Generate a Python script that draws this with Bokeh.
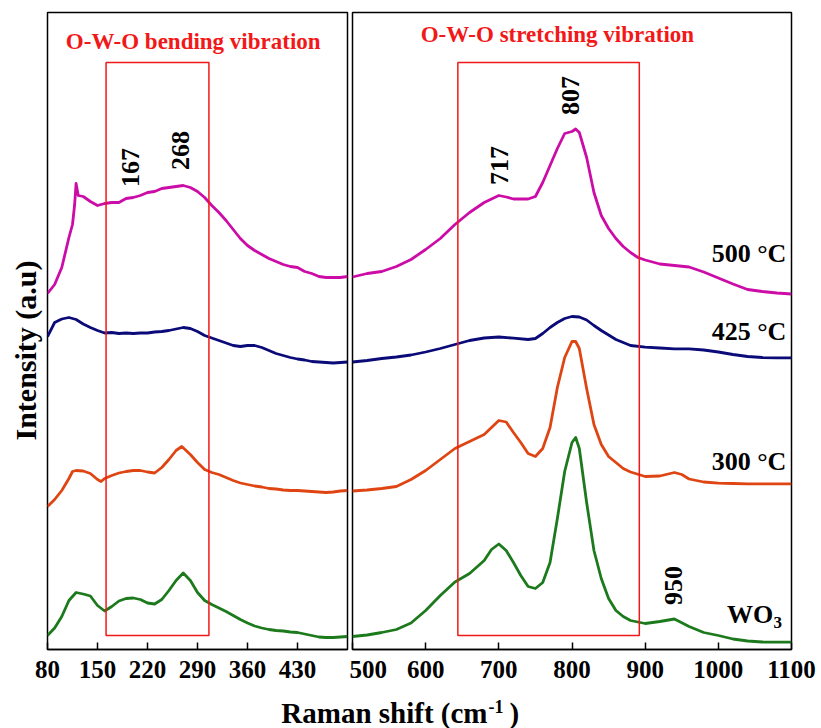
import math
from bokeh.plotting import figure
from bokeh.models import Range1d, FixedTicker, Label, Title
from bokeh.layouts import row, column
from bokeh.embed import file_html
from bokeh.resources import INLINE

# ---------------- data ----------------
left_ticks = [80, 150, 220, 290, 360, 430]
right_ticks = [500, 600, 700, 800, 900, 1000, 1100]

# 500 °C (magenta)
mag_l_x = [80, 90, 100, 110, 115, 118, 120, 123, 130, 140, 150, 160, 170, 180, 190, 200, 210, 220, 230, 240,
           250, 260, 270, 280, 290, 300, 310, 320, 330, 340, 350, 360, 370, 380, 390, 400, 410, 420, 430, 440,
           450, 460, 470, 480, 490, 500]
mag_l_y = [356, 365, 382, 412, 425, 445, 466, 454, 453, 448, 444, 446, 447, 447, 451, 452, 454, 457, 458, 461,
           462, 463, 464, 462, 458, 452, 444, 437, 429, 420, 411, 404, 399, 395, 391, 388, 385, 383, 382, 378,
           376, 373, 372, 372, 372, 373]
mag_r_x = [500, 520, 540, 560, 580, 600, 620, 640, 660, 680, 700, 710, 720, 740, 750, 760, 770, 780, 790, 800,
           805, 810, 820, 830, 840, 850, 860, 870, 880, 890, 900, 920, 940, 960, 980, 1000, 1020, 1040, 1060, 1080, 1100]
mag_r_y = [372.5, 376, 378, 383, 390, 400, 411, 425, 437, 447, 454, 452.5, 450.5, 450.5, 453, 467, 484, 501, 516, 518,
           520.5, 517, 492, 457, 434, 421, 411, 403, 397, 392, 389.5, 385.5, 384, 382.5, 377.5, 371.5, 365.5, 360, 358, 356.5, 355.5]

# 425 °C (navy)
nav_l_x = list(range(80, 501, 10))
nav_l_y = [313, 327, 330.5, 332, 330, 325.5, 322, 319, 316.5, 317, 316, 316.5, 316, 316.5, 316.5, 317.5, 318, 319,
           320.5, 322, 321, 318, 314, 311.5, 309, 306.5, 304, 303, 304, 304, 302, 299, 296, 294, 292, 290.5, 289.5,
           288, 287.5, 287, 286.5, 287, 287.5]
nav_r_x = [500, 520, 540, 560, 580, 600, 620, 640, 660, 680, 700, 720, 740, 750, 760, 770, 780, 790, 800, 810,
           820, 830, 840, 850, 860, 870, 880, 900, 920, 940, 960, 980, 1000, 1020, 1040, 1060, 1080, 1100]
nav_r_y = [287.5, 289, 291, 292.5, 294.5, 297.5, 301, 305, 309, 311.5, 312.5, 311.3, 310, 311, 316, 322, 327, 331, 333, 332.5,
           329.5, 324, 319, 314.5, 310, 307, 304, 302.3, 301.5, 300.7, 300.7, 299.5, 297.5, 295, 293, 292, 291.7, 291.7]

# 300 °C (orange)
org_l_x = [80, 90, 100, 110, 115, 120, 130, 140, 150, 155, 160, 170, 180, 190, 200, 210, 220, 230, 240, 250,
           260, 268, 280, 290, 300, 310, 320, 330, 340, 350, 360, 370, 380, 390, 400, 410, 420, 430, 440, 450,
           460, 470, 480, 490, 500]
org_l_y = [143, 150, 159, 171, 178, 179, 178.5, 176, 170, 168, 171, 174, 176.5, 178, 179, 179, 177.5, 176.5, 182, 190,
           199, 203, 195, 187, 180, 177, 175, 172, 169, 166.5, 165, 163.5, 162.5, 161, 160.5, 159.5, 159, 159, 158.5, 158,
           157.5, 157, 157.5, 158.5, 159]
org_r_x = [500, 520, 540, 560, 580, 600, 620, 640, 660, 680, 690, 700, 710, 720, 730, 740, 750, 760, 770, 780,
           790, 800, 805, 810, 820, 830, 840, 850, 860, 870, 880, 900, 920, 940, 950, 960, 980, 1000, 1020, 1040,
           1060, 1080, 1100]
org_r_y = [158.5, 159.5, 161, 163, 170, 179, 190, 201, 208, 215, 222, 229, 227.5, 217, 207, 196, 193, 201, 222, 262,
           292, 308, 308, 301, 261, 225, 205, 193, 187, 181, 177.5, 173, 173.5, 177, 175, 170.5, 167.5, 166.3, 166, 165.7,
           165.7, 165.7, 165.7]

# WO3 (green)
grn_l_x = list(range(80, 501, 10))
grn_l_y = [14, 21.5, 33, 49, 57, 55.5, 53.5, 44, 38.5, 43, 48.5, 51, 51.5, 50, 46.5, 45.5, 50, 59, 69, 76.5,
           69, 57, 49, 45, 41.5, 38, 34, 30, 26.5, 23.5, 21.5, 20, 19, 18.5, 17.5, 17, 15.5, 14, 12.5, 12,
           12, 12.5, 13]
grn_r_x = [500, 520, 540, 560, 580, 600, 620, 640, 660, 680, 690, 700, 710, 720, 730, 740, 750, 760, 770, 780,
           790, 800, 805, 810, 820, 830, 840, 850, 860, 870, 880, 900, 920, 940, 960, 980, 1000, 1020, 1040, 1060,
           1080, 1100]
grn_r_y = [13, 14.5, 17, 20, 26.5, 39, 54, 67.5, 76, 89, 100, 105.5, 99, 87, 74, 63, 61, 67, 87, 131,
           178, 207, 212, 201, 147, 99, 71, 51, 39, 33, 29, 26, 28, 30.5, 23, 17, 14, 10.5, 8.5, 7.5,
           7.3, 7.3]

# highlighted regions (wavenumber ranges)
bend_box = [162, 306]
stretch_box = [644, 892]
box_y = [14, 587]

# peak annotations: (text, x, y)
peaks_left = [("167", 196, 482), ("268", 266, 499)]
peaks_right = [("717", 701, 484), ("807", 798, 554), ("950", 939, 64)]

series_labels = [("500 °C", 396), ("425 °C", 318), ("300 °C", 188)]

# ---------------- styling ----------------
FONT = "Liberation Serif"
C_MAG = "#CC0CA6"
C_NAV = "#0A0A78"
C_ORG = "#DF4512"
C_GRN = "#1C7A1C"
C_RED = "#F21818"
LW = 2.8


def style(p, ticks):
    p.xgrid.visible = False
    p.ygrid.visible = False
    p.outline_line_color = "black"
    p.outline_line_width = 1.5
    p.background_fill_color = "white"
    p.border_fill_color = "white"
    ax = p.xaxis[0]
    ax.ticker = FixedTicker(ticks=ticks)
    ax.major_tick_in = 7
    ax.major_tick_out = 0
    ax.minor_tick_in = 0
    ax.minor_tick_out = 0
    ax.axis_line_width = 1.5
    ax.major_tick_line_width = 1.5
    ax.major_label_text_font = FONT
    ax.major_label_text_font_style = "bold"
    ax.major_label_text_font_size = "25px"
    ax.major_label_text_color = "black"
    ax.major_label_standoff = 11


def lab(p, text, x, y, size, angle=0.0, align="center", baseline="middle", color="black"):
    p.add_layout(Label(x=x, y=y, text=text, angle=angle, text_align=align, text_baseline=baseline,
                       text_font=FONT, text_font_style="bold", text_font_size=size, text_color=color))


p1 = figure(width=349, height=692, x_range=Range1d(80, 500), y_range=Range1d(0, 637),
            output_backend="svg", toolbar_location=None, y_axis_location=None, title_location=None,
            min_border_left=47, min_border_right=2, min_border_top=12, min_border_bottom=43)
p2 = figure(width=472, height=692, x_range=Range1d(500, 1100), y_range=Range1d(0, 637),
            output_backend="svg", toolbar_location=None, y_axis_location=None, title_location=None,
            min_border_left=3, min_border_right=30, min_border_top=12, min_border_bottom=43)
style(p1, left_ticks)
style(p2, right_ticks)

for p, xs, ys, c in [(p1, mag_l_x, mag_l_y, C_MAG), (p1, nav_l_x, nav_l_y, C_NAV),
                     (p1, org_l_x, org_l_y, C_ORG), (p1, grn_l_x, grn_l_y, C_GRN),
                     (p2, mag_r_x, mag_r_y, C_MAG), (p2, nav_r_x, nav_r_y, C_NAV),
                     (p2, org_r_x, org_r_y, C_ORG), (p2, grn_r_x, grn_r_y, C_GRN)]:
    p.line(xs, ys, line_color=c, line_width=LW, line_join="round")

p1.quad(left=[bend_box[0]], right=[bend_box[1]], bottom=[box_y[0]], top=[box_y[1]],
        fill_color=None, line_color=C_RED, line_width=1.5)
p2.quad(left=[stretch_box[0]], right=[stretch_box[1]], bottom=[box_y[0]], top=[box_y[1]],
        fill_color=None, line_color=C_RED, line_width=1.5)

for t, x, y in peaks_left:
    lab(p1, t, x, y, "26px", angle=math.pi / 2)
for t, x, y in peaks_right:
    lab(p2, t, x, y, "26px", angle=math.pi / 2)

for t, y in series_labels:
    lab(p2, t, 1093, y, "26px", align="right", baseline="alphabetic")
lab(p2, "WO", 1075, 35, "26px", align="right", baseline="alphabetic")
lab(p2, "3", 1075.5, 27, "17px", align="left", baseline="alphabetic")

lab(p1, "O-W-O bending vibration", 284, 608, "23px", baseline="alphabetic", color=C_RED)
lab(p2, "O-W-O stretching vibration", 780, 615, "23px", baseline="alphabetic", color=C_RED)

# y axis title (a side-panel title, so it is drawn outside the frame)
p1.add_layout(Title(text="Intensity (a.u)", align="left", offset=209, standoff=12,
                    text_font=FONT, text_font_style="bold", text_font_size="30px",
                    text_color="black"), "left")

# x axis title spanning both panels
p3 = figure(width=821, height=36, x_range=Range1d(0, 821), y_range=Range1d(0, 36),
            output_backend="svg", toolbar_location=None, x_axis_location=None, y_axis_location=None,
            title_location=None, min_border=0, outline_line_color=None)
p3.xgrid.visible = False
p3.ygrid.visible = False
lab(p3, "Raman shift (cm", 487, 16, "29px", align="right", baseline="alphabetic")
lab(p3, "-1", 488, 22, "18px", align="left", baseline="alphabetic")
lab(p3, ")", 509, 16, "29px", align="left", baseline="alphabetic")

layout = column(row(p1, p2), p3)
open("out.html", "w").write(file_html(layout, INLINE))
